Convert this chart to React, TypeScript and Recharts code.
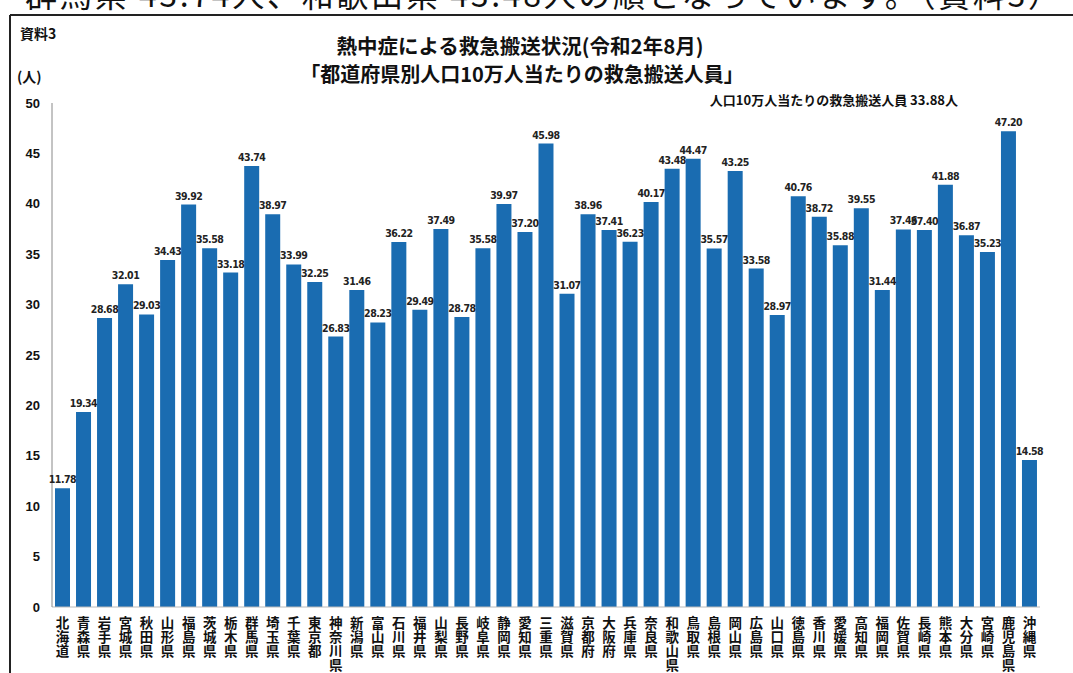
import React from 'react';
import { BarChart, Bar, XAxis, YAxis, LabelList } from 'recharts';

const prefectures = [
  '北海道', '青森県', '岩手県', '宮城県', '秋田県', '山形県', '福島県', '茨城県', '栃木県', '群馬県',
  '埼玉県', '千葉県', '東京都', '神奈川県', '新潟県', '富山県', '石川県', '福井県', '山梨県', '長野県',
  '岐阜県', '静岡県', '愛知県', '三重県', '滋賀県', '京都府', '大阪府', '兵庫県', '奈良県', '和歌山県',
  '鳥取県', '島根県', '岡山県', '広島県', '山口県', '徳島県', '香川県', '愛媛県', '高知県', '福岡県',
  '佐賀県', '長崎県', '熊本県', '大分県', '宮崎県', '鹿児島県', '沖縄県',
];

const values = [
  11.78, 19.34, 28.68, 32.01, 29.03, 34.43, 39.92, 35.58, 33.18, 43.74,
  38.97, 33.99, 32.25, 26.83, 31.46, 28.23, 36.22, 29.49, 37.49, 28.78,
  35.58, 39.97, 37.20, 45.98, 31.07, 38.96, 37.41, 36.23, 40.17, 43.48,
  44.47, 35.57, 43.25, 33.58, 28.97, 40.76, 38.72, 35.88, 39.55, 31.44,
  37.46, 37.40, 41.88, 36.87, 35.23, 47.20, 14.58,
];

const yTicks = [0, 5, 10, 15, 20, 25, 30, 35, 40, 45, 50];

const topLine = '群馬県 43.74人、和歌山県 43.48人の順となっています。（資料3）';
const title1 = '熱中症による救急搬送状況(令和2年8月)';
const title2 = '「都道府県別人口10万人当たりの救急搬送人員」';
const sourceLabel = '資料3';
const unitLabel = '(人)';
const avgNote = '人口10万人当たりの救急搬送人員 33.88人';

const data = prefectures.map((name, i) => ({ name, v: values[i] }));

const JP = "'Noto Sans CJK JP', 'Noto Sans', sans-serif";

const VerticalTick = (props: any) => {
  const { x, y, payload } = props;
  return (
    <text
      x={x}
      y={y + 9}
      fontFamily={JP}
      fontWeight={700}
      fontSize={13.5}
      fill="#111"
      style={{ writingMode: 'vertical-rl', letterSpacing: 0.7 } as any}
    >
      {String(payload.value)}
    </text>
  );
};

export default function App() {
  return (
    <div style={{ position: 'absolute', left: 0, top: 0, width: 1073, height: 673, background: '#fff', overflow: 'hidden' }}>
      <svg width={1073} height={673} style={{ position: 'absolute', left: 0, top: 0 }}>
        <text x={25} y={7} fontFamily={JP} fontSize={32} fill="#111" textLength={1035} lengthAdjust="spacing">
          {topLine}
        </text>
        <line x1={10} y1={15} x2={1073} y2={15} stroke="#222" strokeWidth={2} />
        <line x1={10} y1={15} x2={10} y2={673} stroke="#222" strokeWidth={2} />
        <text x={20} y={39} fontFamily={JP} fontWeight={700} fontSize={14} fill="#111">{sourceLabel}</text>
        <text x={520} y={54} textAnchor="middle" fontFamily={JP} fontWeight={700} fontSize={20.5} fill="#111">{title1}</text>
        <text x={522} y={82} textAnchor="middle" fontFamily={JP} fontWeight={700} fontSize={20} fill="#111">{title2}</text>
        <text x={17} y={82} fontFamily={JP} fontWeight={700} fontSize={14} fill="#111">{unitLabel}</text>
        <text x={958} y={105} textAnchor="end" fontFamily={JP} fontWeight={700} fontSize={13} fill="#111">{avgNote}</text>
      </svg>
      <div style={{ position: 'absolute', left: 0, top: 0 }}>
        <BarChart
          width={1073}
          height={673}
          data={data}
          margin={{ top: 103, right: 33, bottom: 0, left: 0 }}
        >
          <XAxis
            dataKey="name"
            interval={0}
            height={66}
            tickSize={0}
            tickMargin={0}
            tickLine={false}
            axisLine={{ stroke: '#bbb' }}
            tick={<VerticalTick />}
          />
          <YAxis
            width={52}
            domain={[0, 50]}
            ticks={yTicks}
            interval={0}
            tickSize={0}
            tickMargin={12}
            tickLine={false}
            axisLine={{ stroke: '#888' }}
            tick={{ fontFamily: "'Liberation Sans', Arial, sans-serif", fontWeight: 700, fontSize: 13, fill: '#111' }}
          />
          <Bar dataKey="v" fill="#1a6cb1" barSize={15} isAnimationActive={false}>
            <LabelList
              dataKey="v"
              position="top"
              offset={5}
              formatter={(v: any) => Number(v).toFixed(2)}
              style={{ fontFamily: "'DejaVu Sans Condensed', 'Liberation Sans Narrow', sans-serif", fontWeight: 700, fontSize: 10.5, letterSpacing: -0.5, fill: '#222' }}
            />
          </Bar>
        </BarChart>
      </div>
    </div>
  );
}
